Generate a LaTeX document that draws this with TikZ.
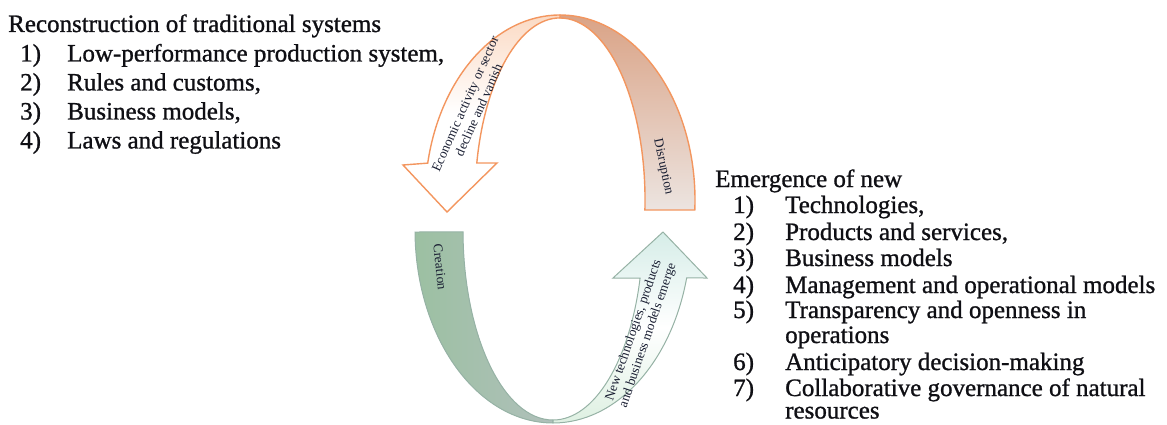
\documentclass[tikz,border=0pt]{standalone}
\usepackage{fontspec}
\setmainfont{Liberation Serif}
\newfontfamily\listfont{Liberation Serif}[FakeBold=1.0]
\definecolor{orline}{RGB}{243,150,95}
\definecolor{salmon}{RGB}{218,163,134}
\definecolor{lbeige}{RGB}{236,228,224}
\definecolor{peach}{RGB}{251,218,196}
\definecolor{grline}{RGB}{150,178,165}
\definecolor{grA}{RGB}{156,192,162}
\definecolor{grB}{RGB}{176,192,187}
\definecolor{aqua}{RGB}{214,237,232}
\definecolor{mint}{RGB}{222,240,226}
\definecolor{txtc}{RGB}{15,15,20}
\definecolor{bandtxtc}{RGB}{25,30,50}
\tikzset{
  lbl/.style={anchor=base west, inner sep=0pt, font=\listfont\fontsize{25}{29}\selectfont, text=txtc},
  bandtxt/.style={font=\fontsize{13.3}{15}\selectfont, align=center, inner sep=0pt, text=bandtxtc},
  topband/.style={draw=orline, line width=1.4pt, top color=salmon, bottom color=lbeige},
  toparrow/.style={draw=orline, line width=1.4pt, top color=peach, bottom color=white, middle color=white},
  botband/.style={draw=grline, line width=1pt, left color=grA, right color=grB},
  botarrow/.style={draw=grline, line width=1pt, top color=aqua, bottom color=mint, middle color=white}
}
\begin{document}
\begin{tikzpicture}[x=1pt,y=-1pt]
\useasboundingbox (0,0) rectangle (1167,425);
% top orange ribbon
\shadedraw[topband] (560,15) arc[start angle=-90,end angle=3.1,x radius=135,y radius=185]
  -- (644.9,210) arc[start angle=3.15,end angle=-90,x radius=85,y radius=182] -- cycle;
\shadedraw[toparrow] (560,15) arc[start angle=-90,end angle=-168.5,x radius=135,y radius=185]
  -- (403,165) -- (447,212) -- (497,163) -- (476.8,163)
  arc[start angle=-168.3,end angle=-90,x radius=85,y radius=182] -- cycle;
% bottom green ribbon
\shadedraw[botband] (415,232) arc[start angle=179.4,end angle=90,x radius=138,y radius=193]
  -- (553,420) arc[start angle=90,end angle=179.4,x radius=90,y radius=190] -- cycle;
\shadedraw[botarrow] (553,423) arc[start angle=90,end angle=14.4,x radius=138,y radius=193]
  -- (707,278) -- (663,232) -- (613,278) -- (640.1,278)
  arc[start angle=14.63,end angle=90,x radius=90,y radius=190] -- cycle;
% ribbon labels
\node[bandtxt, rotate=66] (econ) at (472,107) {Economic activity or sector\\decline and vanish};
\node[bandtxt, rotate=-78] (disr) at (663,167) {Disruption};
\node[bandtxt, rotate=-84] (crea) at (440,267) {Creation};
\node[bandtxt, rotate=71] (newt) at (641,333) {New technologies, products\\and business models emerge};
% left list
\node[lbl] (lt) at (8,32) {Reconstruction of traditional systems};
\node[lbl] (ln1) at (20,61.5) {1)};  \node[lbl] (li1) at (67,61.5) {Low-performance production system,};
\node[lbl] (ln2) at (20,90.5) {2)};  \node[lbl] (li2) at (67,90.5) {Rules and customs,};
\node[lbl] (ln3) at (20,119.5) {3)}; \node[lbl] (li3) at (67,119.5) {Business models,};
\node[lbl] (ln4) at (20,148.5) {4)}; \node[lbl] (li4) at (67,148.5) {Laws and regulations};
% right list
\node[lbl] (rt) at (715,187) {Emergence of new};
\node[lbl] (rn1) at (733,213) {1)}; \node[lbl] (ri1) at (785,213) {Technologies,};
\node[lbl] (rn2) at (733,240) {2)}; \node[lbl] (ri2) at (785,240) {Products and services,};
\node[lbl] (rn3) at (733,266) {3)}; \node[lbl] (ri3) at (785,266) {Business models};
\node[lbl] (rn4) at (733,293) {4)}; \node[lbl] (ri4) at (785,293) {Management and operational models};
\node[lbl] (rn5) at (733,318) {5)}; \node[lbl] (ri5) at (785,318) {Transparency and openness in};
\node[lbl] (ri5b) at (785,343) {operations};
\node[lbl] (rn6) at (733,370) {6)}; \node[lbl] (ri6) at (785,370) {Anticipatory decision-making};
\node[lbl] (rn7) at (733,396) {7)}; \node[lbl] (ri7) at (785,396) {Collaborative governance of natural};
\node[lbl] (ri7b) at (785,418.5) {resources};
\end{tikzpicture}
\end{document}
